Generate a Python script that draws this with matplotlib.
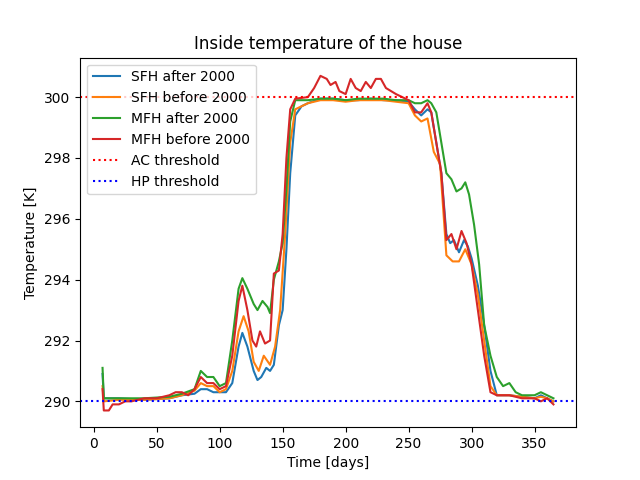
import matplotlib
matplotlib.use("Agg")
import matplotlib.pyplot as plt

sfh_new_x = [7,8,20,40,60,70,80,85,90,95,100,105,110,115,118,122,127,130,133,137,140,143,147,150,153,156,160,165,170,180,190,200,210,220,230,240,250,255,260,265,268,272,276,280,283,286,290,294,297,300,305,310,315,320,330,340,350,355,360,365]
sfh_new_y = [290.9,290.1,290.1,290.05,290.1,290.2,290.25,290.4,290.4,290.3,290.3,290.3,290.6,291.8,292.25,291.8,291.0,290.7,290.8,291.1,291.0,291.2,292.5,293.0,295.0,297.5,299.4,299.7,299.8,299.95,299.95,299.9,299.9,299.95,299.9,299.9,299.85,299.6,299.4,299.6,299.5,298.5,297.5,295.5,295.2,295.3,294.9,295.3,295.1,294.7,293.8,292.5,291.0,290.2,290.2,290.15,290.1,290.2,290.1,290.0]

sfh_old_x = [7,8,20,40,60,70,80,85,90,95,100,105,110,115,119,123,127,131,135,140,144,148,152,156,160,165,170,180,190,200,210,220,230,240,250,255,260,265,270,275,280,285,290,295,300,305,310,315,320,330,340,350,355,360,365]
sfh_old_y = [290.5,290.0,290.05,290.05,290.1,290.2,290.35,290.6,290.5,290.5,290.3,290.4,291.0,292.3,292.8,292.3,291.3,291.0,291.5,291.2,291.8,293.0,295.5,298.5,299.6,299.7,299.8,299.9,299.9,299.85,299.9,299.9,299.9,299.85,299.8,299.4,299.2,299.3,298.2,297.8,294.8,294.6,294.6,295.0,294.5,293.5,292.0,290.5,290.2,290.2,290.15,290.1,290.15,290.1,290.0]

mfh_new_x = [7,8,20,40,60,70,80,85,90,95,100,105,110,115,118,122,127,130,134,138,140,143,147,150,153,156,160,170,180,190,200,210,220,230,240,250,255,260,265,268,272,276,280,284,288,292,295,298,302,306,310,315,320,325,330,335,340,350,355,360,365]
mfh_new_y = [291.1,290.1,290.1,290.1,290.15,290.25,290.4,291.0,290.8,290.8,290.5,290.6,292.0,293.7,294.05,293.7,293.2,293.0,293.3,293.1,292.9,294.0,294.6,295.2,297.0,299.2,299.9,299.9,299.95,299.95,299.9,299.95,299.95,299.95,299.9,299.9,299.8,299.8,299.9,299.8,299.5,298.5,297.5,297.3,296.9,297.0,297.2,296.8,295.8,294.5,292.5,291.5,290.8,290.5,290.6,290.3,290.2,290.2,290.3,290.2,290.1]

mfh_old_x = [7,8,12,15,20,25,30,40,50,60,65,70,75,80,85,90,95,100,105,110,115,118,122,126,129,132,136,140,143,147,150,153,156,160,170,175,180,185,188,192,195,200,204,208,212,216,220,224,228,232,236,240,245,250,255,260,265,268,272,276,280,284,288,292,296,300,305,310,315,320,330,340,350,355,360,365]
mfh_old_y = [290.4,289.7,289.7,289.9,289.9,290.0,290.0,290.1,290.1,290.2,290.3,290.3,290.2,290.4,290.8,290.6,290.6,290.4,290.5,291.5,293.3,293.8,293.0,292.0,291.8,292.3,291.9,292.0,294.2,294.3,295.5,298.0,299.6,299.95,300.0,300.3,300.7,300.6,300.4,300.5,300.2,300.1,300.6,300.3,300.2,300.5,300.3,300.6,300.6,300.3,300.2,300.1,300.0,299.9,299.5,299.5,299.8,299.5,298.5,297.5,295.3,295.5,295.0,295.6,295.2,294.5,293.0,291.5,290.3,290.2,290.2,290.1,290.1,290.0,290.1,289.9]

ac_threshold = 300
hp_threshold = 290

fig, ax = plt.subplots(figsize=(6.4, 4.8), dpi=100)
ax.plot(sfh_new_x, sfh_new_y, label="SFH after 2000")
ax.plot(sfh_old_x, sfh_old_y, label="SFH before 2000")
ax.plot(mfh_new_x, mfh_new_y, label="MFH after 2000")
ax.plot(mfh_old_x, mfh_old_y, label="MFH before 2000")
ax.axhline(ac_threshold, color="red", linestyle=":", label="AC threshold")
ax.axhline(hp_threshold, color="blue", linestyle=":", label="HP threshold")
ax.set_title("Inside temperature of the house")
ax.set_xlabel("Time [days]")
ax.set_ylabel("Temperature [K]")
ax.set_ylim(289.15, 301.3)
ax.legend(loc="upper left")
fig.savefig("out.png")
